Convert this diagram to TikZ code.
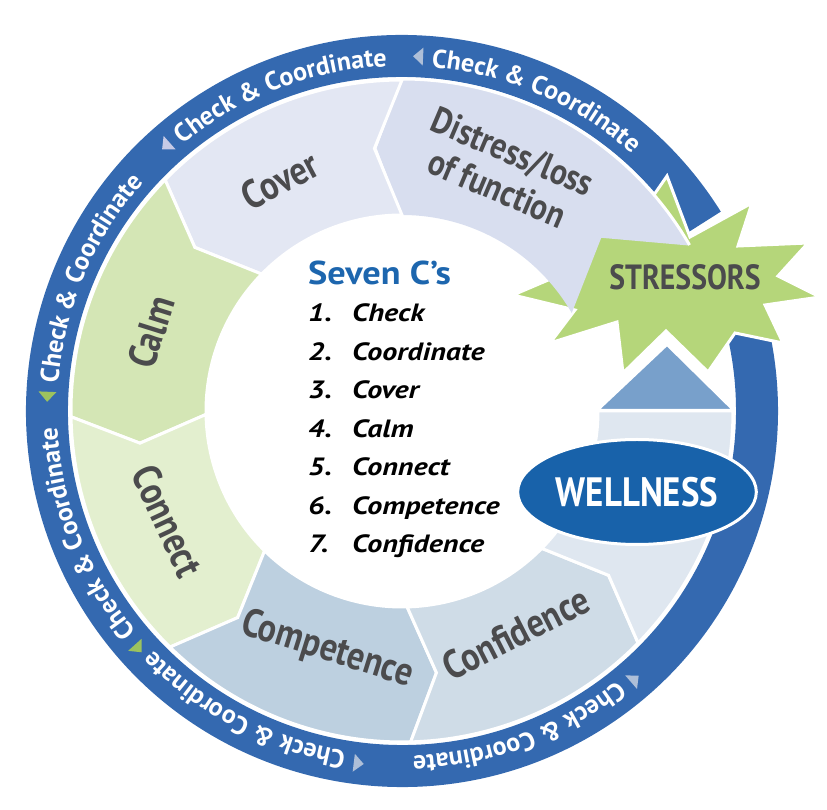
\documentclass[tikz,border=0pt]{standalone}
\usepackage{fontspec}
\setmainfont{PT Sans}
\newfontfamily\labelfont[FakeStretch=0.85]{PT Sans}
\newfontfamily\listfont[FakeStretch=1.2]{PT Sans}
\newfontfamily\titlefont[FakeStretch=1.1]{PT Sans}
\usetikzlibrary{decorations.text, shapes.geometric}

\definecolor{ringblue}{HTML}{3469B0}
\definecolor{labelgrey}{HTML}{4B4B4D}
\definecolor{sevenblue}{HTML}{1D66AE}
\definecolor{wellblue}{HTML}{1862AA}
\definecolor{stargreen}{HTML}{B5D67A}
\definecolor{arrowblue}{HTML}{78A0CB}
\definecolor{distressfill}{HTML}{D8DEEF}
\definecolor{coverfill}{HTML}{E3E7F3}
\definecolor{calmfill}{HTML}{D4E6B5}
\definecolor{connectfill}{HTML}{E3EFCF}
\definecolor{competencefill}{HTML}{BDD0E0}
\definecolor{confidencefill}{HTML}{CFDCE7}
\definecolor{wellfill}{HTML}{DFE7F0}
\definecolor{tipgreen}{HTML}{9CC35E}
\definecolor{tiplilac}{HTML}{C6CAE6}
\definecolor{tipgrey}{HTML}{AEBFD8}

\newcommand{\ringfont}{\bfseries\fontsize{26}{26}\selectfont}

\begin{document}
\begin{tikzpicture}[x=1pt, y=1pt,
	segment/.style={draw=white, line width=3pt, line join=miter},
	seglabel/.style={font=\labelfont\bfseries\fontsize{40}{40}\selectfont, text=labelgrey, align=center},
	listitem/.style={anchor=base west, inner sep=0pt, font=\listfont\bfseries\itshape\fontsize{25}{25}\selectfont}]
	\useasboundingbox (-402,-399) rectangle (425,411);
	% outer ring
	\draw[ringblue, line width=42pt] (32:355) arc[start angle=32, end angle=377, radius=355];
	\foreach \t/\c in {222/tipgreen, 177.7/tipgreen, 131.7/tiplilac, 87.4/tipgrey, 311/tipgrey, 263/tipgrey} {
		\fill[\c, rotate=\t] (346,-5) -- (364,-5) -- (355,5) -- cycle;
		\path[decorate, decoration={text along path, text align=left, text color=white,
			text={|\ringfont|Check {\&} Coordinate}}]
			({\t-2.3}:345) arc[start angle={\t-2.3}, end angle={\t-60}, radius=345];
	}
	% stressors star
	\draw[fill=stargreen, draw=white, line width=3pt] (265,235) -- (288,174) -- (350,208) -- (336,165)
		-- (406,168) -- (376,135) -- (418,114) -- (363,106) -- (381,68) -- (333,78) -- (306,39)
		-- (264,80) -- (221,38) -- (215,89) -- (148,68) -- (173,101) -- (111,116) -- (158,136)
		-- (198,181) -- (238,196) -- cycle;
	% segments
	\fill[distressfill] (30:331) arc[start angle=30, end angle=90, radius=331] -- (95.5:264)
		-- (90:196) arc[start angle=90, end angle=30, radius=196] -- (41:264) -- cycle;
	\draw[white, line width=3pt] (30:332) arc[start angle=30, end angle=90, radius=332];
	\foreach \a/\b/\c in {90/135.7/coverfill, 135.7/181/calmfill, 181/225.5/connectfill,
		225.5/271.5/competencefill, 271.5/315.5/confidencefill}
		\draw[segment, fill=\c] (\a:331) arc[start angle=\a, end angle=\b, radius=331] -- ({\b+6}:264)
			-- (\b:196) arc[start angle=\b, end angle=\a, radius=196] -- ({\a+6}:264) -- cycle;
	\draw[segment, fill=wellfill] (315.5:331) arc[start angle=315.5, end angle=360, radius=331]
		-- (360:196) arc[start angle=360, end angle=315.5, radius=196] -- (321.5:264) -- cycle;
	\draw[white, line width=2pt, fill=arrowblue] (196,1) -- (331,1) -- (265,66) -- cycle;
	% labels
	\node[seglabel, rotate=27.8] (cover) at (-122,231) {Cover};
	\node[seglabel, rotate=72.5] (calm) at (-251,79) {Calm};
	\node[seglabel, rotate=-65] (connect) at (-234,-110) {Connect};
	\node[seglabel, rotate=-17.4] (competence) at (-75,-239) {Competence};
	\node[seglabel, rotate=27] (confidence) at (114,-222) {Confidence};
	\node[seglabel, rotate=-23, font=\labelfont\bfseries\fontsize{37}{40}\selectfont] (distress) at (103,241) {Distress/loss\\of function};
	\node[font=\labelfont\bfseries\fontsize{35}{35}\selectfont, text=labelgrey] (stressors) at (283,134) {STRESSORS};
	\node[ellipse, fill=wellblue, draw=white, line width=3pt, minimum width=211pt, minimum height=105pt,
		text=white, font=\labelfont\bfseries\fontsize{41}{41}\selectfont] (wellness) at (235,-81) {WELLNESS};
	% centre list
	\node[anchor=base west, inner sep=0pt, text=sevenblue, font=\titlefont\bfseries\fontsize{33}{33}\selectfont] (title) at (-94,126) {Seven C’s};
	\foreach \i/\w in {1/Check, 2/Coordinate, 3/Cover, 4/Calm, 5/Connect, 6/Competence, 7/Confidence} {
		\node[listitem] (num\i) at (-94,{89-38.5*(\i-1)}) {\i.};
		\node[listitem] (item\i) at (-50,{89-38.5*(\i-1)}) {\w};
	}
\end{tikzpicture}
\end{document}
